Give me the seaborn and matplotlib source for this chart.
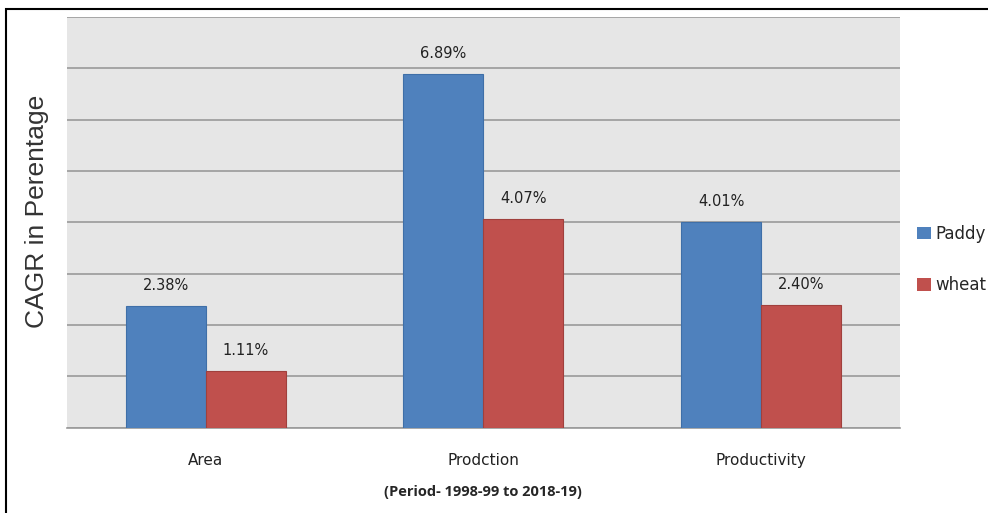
import pandas as pd
import matplotlib.pyplot as plt
import matplotlib.patches as mpatches
import seaborn as sns

# DATA

categories = ["Area", "Prodction", "Productivity"]
paddy = [2.38, 6.89, 4.01]
wheat = [1.11, 4.07, 2.40]

df = pd.DataFrame({
    "Category": categories * 2,
    "Crop": ["Paddy"] * 3 + ["wheat"] * 3,
    "CAGR": paddy + wheat
})

# PLOT

sns.set_style("white")
plt.rcParams["font.family"] = ["DejaVu Sans"]

fig = plt.figure(figsize=(9.88, 5.13), dpi=100)
ax = fig.add_axes([0.0678, 0.166, 0.843, 0.801])
ax.set_facecolor("#e6e6e6")

sns.barplot(
    data=df,
    x="Category",
    y="CAGR",
    hue="Crop",
    palette=["#4f81bd", "#c0504d"],
    saturation=1,
    width=0.576,
    gap=0,
    edgecolor="none",
    linewidth=0,
    ax=ax,
    zorder=3
)

# darker bar outlines
for bar, col in zip(ax.patches, ["#3f6fa8"] * 3 + ["#a0403d"] * 3):
    bar.set_edgecolor(col)
    bar.set_linewidth(0.8)

for cont in ax.containers:
    ax.bar_label(
        cont,
        labels=[f"{v:.2f}%" for v in cont.datavalues],
        padding=9,
        fontsize=10.5,
        color="#222222"
    )

ax.set_ylim(0, 8)
ax.set_xlim(-0.5, 2.5)
ax.set_yticks(range(0, 9))
ax.set_yticklabels([])
ax.tick_params(axis="y", length=0)
ax.tick_params(axis="x", length=0, pad=18, labelsize=11, labelcolor="#222222")
ax.grid(axis="y", color="#9a9a9a", linewidth=1.2, zorder=0)
ax.set_axisbelow(True)

for s in ["top", "right", "left"]:
    ax.spines[s].set_visible(False)
ax.spines["bottom"].set_color("#9a9a9a")
ax.spines["bottom"].set_linewidth(1.2)

ax.set_xlabel(
    "(Period- 1998-99 to 2018-19)",
    fontsize=10.5,
    fontweight="bold",
    family=["Open Sans", "DejaVu Sans"],
    labelpad=12
)
ax.set_ylabel(
    "CAGR in Perentage",
    fontsize=19,
    family=["Liberation Sans", "DejaVu Sans"],
    color="#333333"
)
ax.yaxis.set_label_coords(-0.022, 0.528)

ax.legend(
    loc="center left",
    bbox_to_anchor=(1.003, 0.41),
    frameon=False,
    fontsize=12,
    handlelength=0.8,
    handleheight=0.8,
    handletextpad=0.3,
    labelspacing=2.0
)

# outer frame
fig.add_artist(mpatches.Rectangle(
    (0.006, -0.1), 1.2, 1.0825,
    transform=fig.transFigure,
    fill=False,
    edgecolor="black",
    linewidth=1.5
))

fig.savefig("out.png", dpi=100)
